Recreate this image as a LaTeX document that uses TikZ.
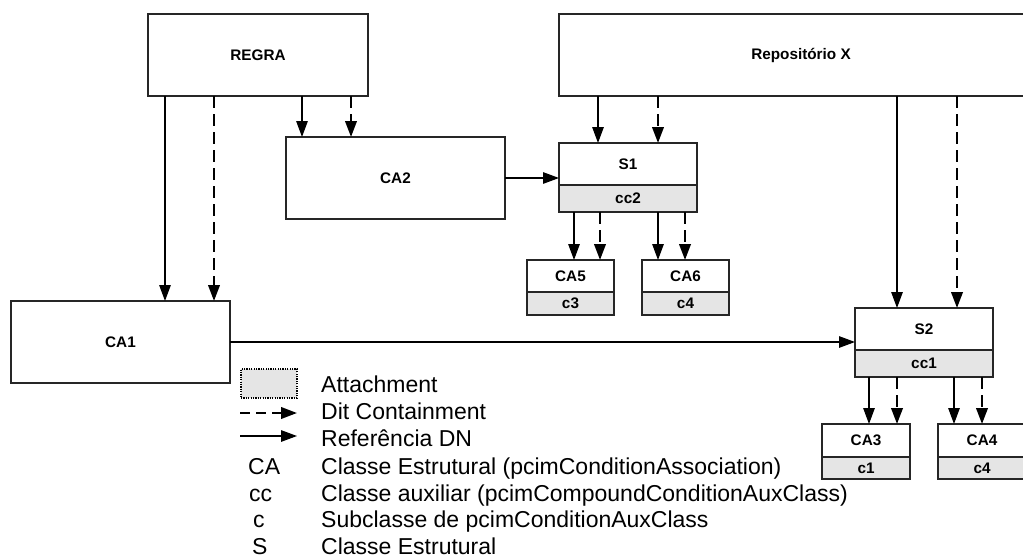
\documentclass[tikz,border=0pt]{standalone}
\usepackage{fontspec}
\setmainfont{Liberation Sans}
\usetikzlibrary{arrows.meta}
\tikzset{
  box/.style={draw=black!85, line width=1.1pt, rectangle, inner sep=0pt, outer sep=0pt,
    anchor=north west, font=\bfseries\fontsize{15.3}{18}\selectfont},
  attbox/.style={box, fill=gray!20},
  refarr/.style={line width=1.3pt, -{Triangle[length=16pt,width=11.5pt]}},
  ditarr/.style={line width=2.3pt, dash pattern=on 12pt off 6pt, -{Triangle[length=16pt,width=11.5pt]}},
  legtxt/.style={anchor=base west, inner sep=0pt, font=\fontsize{23}{27}\selectfont},
}
\begin{document}
\begin{tikzpicture}[x=1pt,y=-1pt]
\useasboundingbox (0,0) rectangle (1023,557);
% boxes
\node[box, minimum width=220pt, minimum height=82pt] (regra) at (148,14) {REGRA};
\node[box, minimum width=484pt, minimum height=82pt] (repo) at (559,14) {Repositório X};
\node[box, minimum width=219pt, minimum height=82pt] (ca2) at (286,137) {CA2};
\node[box, minimum width=219pt, minimum height=82pt] (ca1) at (11,301) {CA1};
\node[box, minimum width=138pt, minimum height=42pt] (s1) at (559,143) {S1};
\node[attbox, minimum width=138pt, minimum height=27pt] (s1c) at (559,185) {cc2};
\node[box, minimum width=87pt, minimum height=32pt] (ca5) at (527,260) {CA5};
\node[attbox, minimum width=87pt, minimum height=23pt] (ca5c) at (527,292) {c3};
\node[box, minimum width=87pt, minimum height=32pt] (ca6) at (642,260) {CA6};
\node[attbox, minimum width=87pt, minimum height=23pt] (ca6c) at (642,292) {c4};
\node[box, minimum width=138pt, minimum height=42pt] (s2) at (855,308) {S2};
\node[attbox, minimum width=138pt, minimum height=27pt] (s2c) at (855,350) {cc1};
\node[box, minimum width=88pt, minimum height=33pt] (ca3) at (822,424) {CA3};
\node[attbox, minimum width=88pt, minimum height=22pt] (ca3c) at (822,457) {c1};
\node[box, minimum width=88pt, minimum height=33pt] (ca4) at (938,424) {CA4};
\node[attbox, minimum width=88pt, minimum height=22pt] (ca4c) at (938,457) {c4};
% REGRA connectors
\draw[refarr] ([xshift=17pt]regra.south west) -- ([xshift=154pt]ca1.north west);
\draw[ditarr] ([xshift=66pt]regra.south west) -- ([xshift=203pt]ca1.north west);
\draw[refarr] ([xshift=154pt]regra.south west) -- ([xshift=16pt]ca2.north west);
\draw[ditarr] ([xshift=203pt]regra.south west) -- ([xshift=65pt]ca2.north west);
% Repositorio connectors
\draw[refarr] ([xshift=39pt]repo.south west) -- ([xshift=39pt]s1.north west);
\draw[ditarr] ([xshift=99pt]repo.south west) -- ([xshift=99pt]s1.north west);
\draw[refarr] ([xshift=338pt]repo.south west) -- ([xshift=42pt]s2.north west);
\draw[ditarr] ([xshift=398pt]repo.south west) -- ([xshift=102pt]s2.north west);
% S1 children
\draw[refarr] ([xshift=15pt]s1c.south west) -- ([xshift=47pt]ca5.north west);
\draw[ditarr] ([xshift=41pt]s1c.south west) -- ([xshift=73pt]ca5.north west);
\draw[refarr] ([xshift=99pt]s1c.south west) -- ([xshift=16pt]ca6.north west);
\draw[ditarr] ([xshift=126pt]s1c.south west) -- ([xshift=43pt]ca6.north west);
% S2 children
\draw[refarr] ([xshift=14pt]s2c.south west) -- ([xshift=47pt]ca3.north west);
\draw[ditarr] ([xshift=42pt]s2c.south west) -- ([xshift=75pt]ca3.north west);
\draw[refarr] ([xshift=99pt]s2c.south west) -- ([xshift=16pt]ca4.north west);
\draw[ditarr] ([xshift=127pt]s2c.south west) -- ([xshift=44pt]ca4.north west);
% horizontal references
\draw[refarr] (ca2.east) -- (ca2.east -| s1.west);
\draw[refarr] (ca1.east) -- (ca1.east -| s2.west);
% legend
\node[draw=black, line width=1.6pt, dash pattern=on 1.2pt off 1.2pt, fill=gray!20, minimum width=56pt,
  minimum height=29pt, inner sep=0pt, outer sep=0pt, anchor=north west] (legatt) at (241,369) {};
\coordinate (ld1) at (240,413);
\coordinate (ld2) at (297,413);
\draw[ditarr, dash pattern=on 10pt off 6pt] (ld1) -- (ld2);
\coordinate (lr1) at (240,436);
\coordinate (lr2) at (297,436);
\draw[refarr] (lr1) -- (lr2);
\node[legtxt] (t1) at (321,392) {Attachment};
\node[legtxt] (t2) at (321,419) {Dit Containment};
\node[legtxt] (t3) at (321,446.5) {Referência DN};
\node[legtxt] (t4) at (321,474) {Classe Estrutural (pcimConditionAssociation)};
\node[legtxt] (t5) at (321,501) {Classe auxiliar (pcimCompoundConditionAuxClass)};
\node[legtxt] (t6) at (321,527.5) {Subclasse de pcimConditionAuxClass};
\node[legtxt] (t7) at (321,554) {Classe Estrutural};
\node[legtxt] (a1) at (248,474) {CA};
\node[legtxt] (a2) at (249,501) {cc};
\node[legtxt] (a3) at (253,527.5) {c};
\node[legtxt] (a4) at (252,554) {S};
\end{tikzpicture}
\end{document}
